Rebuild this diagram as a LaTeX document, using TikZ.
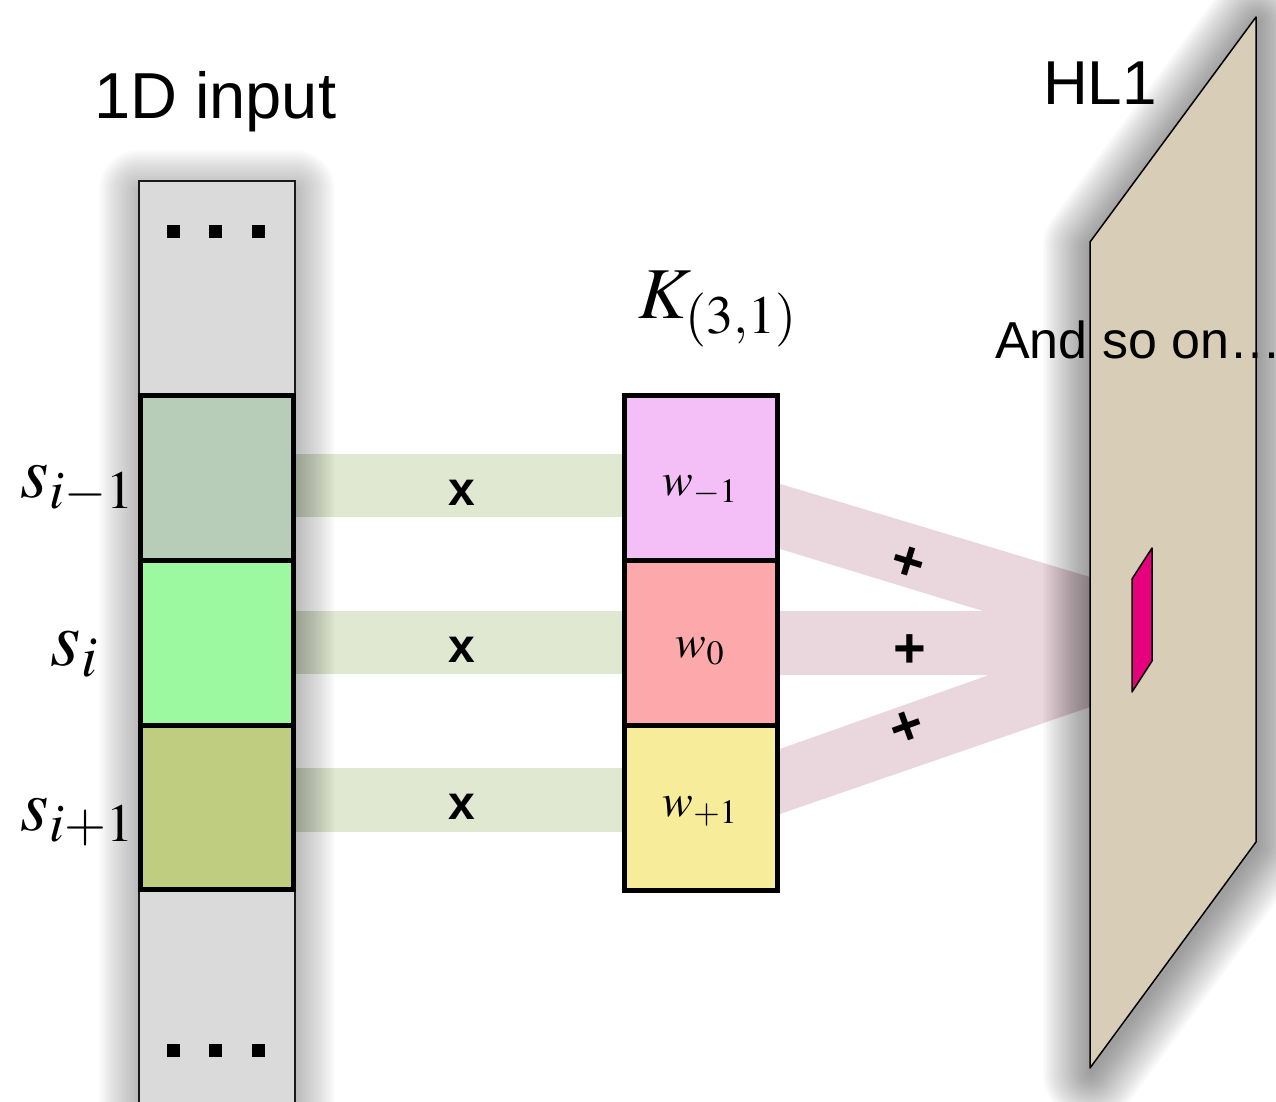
\documentclass[tikz,border=0pt]{standalone}
\usepackage{mathptmx}
\usepackage[no-math]{fontspec}
\setmainfont{Liberation Sans}

\definecolor{colgray}{HTML}{DADADA}
\definecolor{cellA}{HTML}{B8CDB8}
\definecolor{cellB}{HTML}{9DF9A0}
\definecolor{cellC}{HTML}{BECD80}
\definecolor{kerA}{HTML}{F4BFF7}
\definecolor{kerB}{HTML}{FDA9AB}
\definecolor{kerC}{HTML}{F7EC9A}
\definecolor{bandgreen}{HTML}{E0E8D2}
\definecolor{bandpink}{HTML}{EAD6DD}
\definecolor{planefill}{HTML}{D8CDB7}
\definecolor{unitfill}{HTML}{E6007E}

\tikzset{
  cellbox/.style={draw=black, line width=5pt, minimum width=153pt, inner sep=0pt, outer sep=0pt, anchor=north west},
  dotsq/.style={fill=black, minimum size=13pt, inner sep=0pt},
  optext/.style={font=\bfseries\fontsize{48}{52}\selectfont, inner sep=0pt},
  plustext/.style={font=\bfseries\fontsize{56}{60}\selectfont, inner sep=0pt},
  symlabel/.style={inner sep=0pt},
  softshade/.style={draw=black, line join=round},
}

\begin{document}
\begin{tikzpicture}[x=1pt, y=-1pt]
\useasboundingbox (0,0) rectangle (1276,1102);

% multiplication bands between the input column and the kernel
\fill[bandgreen] (295,454) rectangle (624,517);
\fill[bandgreen] (295,611) rectangle (624,674);
\fill[bandgreen] (295,768) rectangle (624,832);

% summation bands from the kernel to the hidden layer
\fill[bandpink] (777,483) -- (1090,577) -- (1090,707) -- (777,815) -- (777,750)
  -- (989,675) -- (777,675) -- (777,611) -- (983,611) -- (777,548) -- cycle;

% soft shadow of the input column
\foreach \w in {4,8,...,80}
  \draw[softshade, opacity=0.016, line width=\w pt] (139,190) rectangle (295,1140);

% soft shadow of the hidden-layer plane
\foreach \w in {4,8,...,96}
  \draw[softshade, opacity=0.02, line width=\w pt] (1091,247) -- (1257,22) -- (1257,847) -- (1091,1073) -- cycle;

% input column
\node[draw=black!90, line width=2pt, fill=colgray, minimum width=156pt, minimum height=960pt,
      inner sep=0pt, outer sep=0pt, anchor=north west] (col) at (139,181) {};
\node[dotsq] (td1) at (173.5,231.5) {};
\node[dotsq] (td2) at (215.5,231.5) {};
\node[dotsq] (td3) at (258.5,231.5) {};
\node[dotsq] (bd1) at (173.5,1050) {};
\node[dotsq] (bd2) at (215.5,1050) {};
\node[dotsq] (bd3) at (258.5,1050) {};

% input samples
\node[cellbox, fill=cellA, minimum height=165pt] (sA) at (140.5,395) {};
\node[cellbox, fill=cellB, minimum height=165pt] (sB) at (140.5,560) {};
\node[cellbox, fill=cellC, minimum height=164pt] (sC) at (140.5,725) {};

% kernel weights
\node[cellbox, fill=kerA, minimum height=165pt] (wA) at (624.5,395) {};
\node[cellbox, fill=kerB, minimum height=165pt] (wB) at (624.5,560) {};
\node[cellbox, fill=kerC, minimum height=165pt] (wC) at (624.5,725) {};

% hidden-layer plane
\path[fill=planefill, draw=black, line width=1.5pt, line join=round]
  (1090,242) -- (1256,17) -- (1256,842) -- (1090,1068) -- cycle;
\path[fill=unitfill, draw=black, line width=1.5pt, line join=round]
  (1152,548) -- (1132,579) -- (1132,692) -- (1152,661) -- cycle;

% titles
\node[anchor=base west, inner sep=0pt, font=\fontsize{65}{72}\selectfont] (tin) at (94,119) {1D input};
\node[anchor=base west, inner sep=0pt, font=\fontsize{62}{70}\selectfont] (thl) at (1043,105) {HL1};
\node[anchor=base west, inner sep=0pt, font=\fontsize{52}{58}\selectfont] (tso) at (995,358) {And so on…};
\node[anchor=base west, symlabel, font=\fontsize{73}{80}\selectfont] (tk) at (638,318) {$K_{(3,1)}$};

% sample labels
\node[anchor=base east, symlabel, font=\fontsize{73}{80}\selectfont] (lA) at (134,497) {$s_{i-1}$};
\node[anchor=base east, symlabel, font=\fontsize{78}{84}\selectfont] (lB) at (98,665) {$s_{i}$};
\node[anchor=base east, symlabel, font=\fontsize{73}{80}\selectfont] (lC) at (134,830) {$s_{i+1}$};

% weight labels
\node[symlabel, font=\fontsize{46}{50}\selectfont] (kA) at (700,490) {$w_{-1}$};
\node[symlabel, font=\fontsize{46}{50}\selectfont] (kB) at (700,651) {$w_{0}$};
\node[symlabel, font=\fontsize{46}{50}\selectfont] (kC) at (700,811) {$w_{+1}$};

% operators
\node[optext] (xA) at (462,493) {x};
\node[optext] (xB) at (462,650) {x};
\node[optext] (xC) at (462,807) {x};
\node[plustext, rotate=-17] (pA) at (908,564) {+};
\node[plustext] (pB) at (910,651) {+};
\node[plustext, rotate=20] (pC) at (907,728) {+};
\end{tikzpicture}
\end{document}
